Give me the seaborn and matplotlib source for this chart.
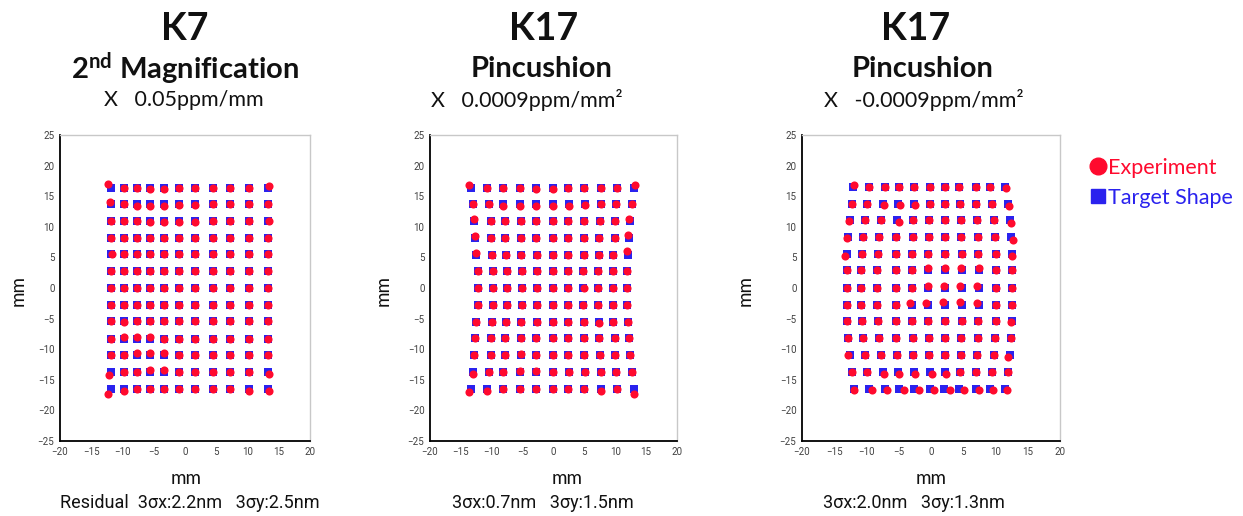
import matplotlib
matplotlib.use("Agg")
import matplotlib.pyplot as plt
from matplotlib import font_manager
from matplotlib.lines import Line2D
import seaborn as sns
import pandas as pd

# ---- values (mm) ----
k7_y = [16.4, 13.7, 11.0, 8.2, 5.5, 2.8, 0.0, -2.7, -5.4, -8.3, -11.0, -13.7, -16.5]
k7_x = [-11.8, -9.8, -7.7, -5.6, -3.4, -0.9, 1.6, 4.4, 7.2, 10.2, 13.3]
k7_dev = [(0, 0, -0.5, 0.6), (1, 0, -0.2, 0.4), (11, 0, -0.3, -0.5), (12, 0, -0.6, -0.8),
          (12, 1, 0.0, -0.3), (12, 9, 0.0, -0.3), (12, 10, 0.1, -0.3), (11, 10, 0.1, -0.3),
          (0, 3, 0.0, -0.3), (0, 4, 0.0, -0.3), (1, 2, 0.0, -0.3), (1, 3, 0.0, -0.3),
          (1, 4, 0.0, -0.3), (1, 5, 0.0, -0.2), (1, 6, 0.0, -0.2), (2, 3, 0.0, -0.2),
          (2, 4, 0.0, -0.2), (2, 5, 0.0, -0.2), (2, 6, 0.0, -0.2), (9, 1, 0.0, 0.3),
          (9, 2, 0.0, 0.3), (9, 3, 0.0, 0.3), (10, 2, 0.0, 0.3), (10, 3, 0.0, 0.3),
          (10, 4, 0.0, 0.3), (11, 3, 0.0, 0.3), (11, 4, 0.0, 0.3), (0, 10, 0.1, 0.2),
          (2, 10, 0.1, -0.1), (4, 0, 0.1, 0.1), (8, 1, 0.1, -0.2)]

pin_y = [16.4, 13.7, 10.9, 8.2, 5.4, 2.7, 0.0, -2.7, -5.5, -8.2, -11.0, -13.8, -16.5]
pin_x = [
    [-13.4, -10.8, -8.1, -5.4, -2.8, -0.1, 2.4, 5.0, 7.7, 10.3, 13.1],
    [-13.1, -10.4, -8.1, -5.4, -2.9, -0.1, 2.5, 5.1, 7.7, 10.2, 12.7],
    [-12.9, -10.2, -7.9, -5.3, -2.8, -0.1, 2.4, 5.0, 7.5, 10.0, 12.4],
    [-12.7, -10.1, -7.8, -5.2, -2.8, -0.1, 2.4, 4.9, 7.4, 9.9, 12.2],
    [-12.5, -9.9, -7.7, -5.2, -2.7, -0.1, 2.3, 4.9, 7.3, 9.7, 12.1],
    [-12.3, -9.8, -7.6, -5.1, -2.7, -0.1, 2.3, 4.8, 7.2, 9.6, 11.9],
    [-12.3, -9.8, -7.6, -5.1, -2.7, -0.1, 2.3, 4.8, 7.2, 9.6, 11.9],
    [-12.3, -9.8, -7.6, -5.1, -2.7, -0.1, 2.3, 4.8, 7.2, 9.6, 11.9],
    [-12.5, -9.9, -7.7, -5.2, -2.7, -0.1, 2.3, 4.9, 7.3, 9.7, 12.1],
    [-12.7, -10.1, -7.8, -5.2, -2.8, -0.1, 2.4, 4.9, 7.4, 9.9, 12.2],
    [-12.9, -10.2, -7.9, -5.3, -2.8, -0.1, 2.4, 5.0, 7.5, 10.0, 12.4],
    [-13.1, -10.4, -8.1, -5.4, -2.9, -0.1, 2.5, 5.1, 7.7, 10.2, 12.7],
    [-13.4, -10.8, -8.1, -5.4, -2.8, -0.1, 2.4, 5.0, 7.7, 10.3, 13.1],
]
pin_dev = [(0, 0, -0.3, 0.35), (0, 10, 0.05, 0.35), (12, 0, -0.3, -0.55), (12, 10, 0.0, -0.75),
           (12, 1, 0.0, -0.4), (12, 8, 0.0, -0.4), (2, 0, 0.05, 0.4), (3, 0, 0.0, 0.3),
           (4, 0, 0.0, 0.3), (2, 10, -0.15, 0.4), (3, 10, -0.15, 0.5), (4, 10, -0.15, 0.6),
           (0, 5, 0.0, -0.25), (0, 4, 0.0, -0.2), (1, 2, 0.0, -0.25), (1, 3, 0.0, -0.3),
           (1, 4, 0.0, -0.3), (1, 5, 0.0, -0.3), (1, 6, 0.0, -0.3), (1, 7, 0.0, -0.2),
           (11, 3, 0.0, 0.3), (11, 4, 0.0, 0.3), (11, 0, 0.0, -0.3), (10, 3, 0.0, 0.25),
           (8, 8, 0.0, -0.2), (6, 7, 0.1, 0.0)]

bar_y = [16.5, 13.8, 11.1, 8.3, 5.5, 2.9, 0.0, -2.7, -5.4, -8.2, -11.0, -13.7, -16.5]
bar_x = [
    [-12.1, -9.6, -7.2, -4.9, -2.6, -0.1, 2.1, 4.4, 6.9, 9.2, 11.5],
    [-12.3, -10.0, -7.5, -5.1, -2.7, -0.2, 2.1, 4.5, 7.0, 9.5, 11.9],
    [-12.6, -10.3, -7.8, -5.2, -2.8, -0.3, 2.2, 4.6, 7.2, 9.7, 12.2],
    [-12.9, -10.6, -8.1, -5.4, -2.8, -0.3, 2.2, 4.7, 7.3, 9.9, 12.4],
    [-13.0, -10.7, -8.2, -5.4, -2.9, -0.4, 2.2, 4.8, 7.3, 10.0, 12.5],
    [-13.1, -10.8, -8.3, -5.5, -2.9, -0.4, 2.2, 4.8, 7.4, 10.1, 12.6],
    [-13.1, -10.8, -8.3, -5.5, -2.9, -0.4, 2.2, 4.8, 7.4, 10.1, 12.6],
    [-13.1, -10.8, -8.3, -5.5, -2.9, -0.4, 2.2, 4.8, 7.4, 10.1, 12.6],
    [-13.0, -10.7, -8.2, -5.4, -2.9, -0.4, 2.2, 4.8, 7.3, 10.0, 12.5],
    [-12.9, -10.6, -8.1, -5.4, -2.8, -0.3, 2.2, 4.7, 7.3, 9.9, 12.4],
    [-12.6, -10.3, -7.8, -5.2, -2.8, -0.3, 2.2, 4.6, 7.2, 9.7, 12.2],
    [-12.3, -10.0, -7.5, -5.1, -2.7, -0.2, 2.1, 4.5, 7.0, 9.5, 11.9],
    [-12.0, -9.6, -7.2, -4.9, -2.6, -0.2, 2.0, 4.4, 6.9, 9.2, 11.4],
]
bar_dev = [(12, 0, 0.1, -0.1), (12, 1, 0.45, -0.1), (12, 2, 0.45, -0.1), (12, 3, 0.65, -0.1),
           (12, 4, 0.8, -0.1), (12, 5, 0.7, -0.1), (12, 6, 0.9, -0.1), (12, 7, 0.7, -0.1),
           (12, 8, 0.5, -0.1), (12, 9, 0.4, -0.1), (12, 10, 0.45, -0.1),
           (11, 2, 0.2, -0.3), (11, 3, 0.2, -0.3), (11, 4, 0.25, -0.3), (11, 5, 0.3, -0.4),
           (11, 6, 0.25, -0.3), (11, 10, 0.1, 0.0),
           (7, 4, -0.3, 0.3), (7, 5, -0.3, 0.3), (7, 6, -0.35, 0.35), (7, 7, -0.35, 0.35),
           (7, 8, -0.25, 0.3), (6, 5, -0.1, 0.3), (6, 6, -0.25, 0.35), (6, 7, -0.25, 0.3),
           (6, 8, -0.2, 0.3), (5, 5, 0.0, 0.3), (5, 6, -0.1, 0.4), (5, 7, -0.1, 0.3),
           (5, 8, 0.0, 0.3), (0, 0, 0.2, 0.4), (0, 10, 0.2, -0.1), (1, 2, 0.2, -0.2),
           (1, 3, 0.25, -0.3), (1, 4, 0.25, -0.3), (1, 10, 0.15, -0.4), (2, 0, -0.1, -0.2),
           (2, 3, 0.2, -0.3), (2, 10, 0.2, -0.4), (3, 0, -0.15, -0.1), (3, 10, 0.25, -0.4),
           (4, 0, -0.3, -0.3), (4, 10, 0.1, -0.2), (8, 10, -0.1, -0.2), (10, 0, -0.2, 0.0),
           (10, 10, -0.2, -0.2)]

titles = ["K7", "K17", "K17"]
subtitles = [r"$\mathbf{2^{nd}}$ Magnification", "Pincushion", "Pincushion"]
params = ["X   0.05ppm/mm", "X   0.0009ppm/mm²", "X   -0.0009ppm/mm²"]
residuals = ["Residual  3σx:2.2nm   3σy:2.5nm",
             "3σx:0.7nm   3σy:1.5nm",
             "3σx:2.0nm   3σy:1.3nm"]
legend_labels = ["Experiment", "Target Shape"]

RED = "#ff0a2e"
BLUE = "#2a22ee"


def build(xrows, yrows, devs):
    recs = []
    for i, y in enumerate(yrows):
        for j, x in enumerate(xrows[i]):
            recs.append({"row": i, "col": j, "x": x, "y": y})
    target = pd.DataFrame(recs)
    exp = target.copy()
    for i, j, dx, dy in devs:
        m = (exp["row"] == i) & (exp["col"] == j)
        exp.loc[m, "x"] += dx
        exp.loc[m, "y"] += dy
    target["kind"] = "Target Shape"
    exp["kind"] = "Experiment"
    return pd.concat([target, exp], ignore_index=True)


panels = [build([k7_x] * len(k7_y), k7_y, k7_dev),
          build(pin_x, pin_y, pin_dev),
          build(bar_x, bar_y, bar_dev)]

sns.set_style("white")
names = {f.name for f in font_manager.fontManager.ttflist}
narrow = "Liberation Sans Narrow" if "Liberation Sans Narrow" in names else "Roboto"
head = "Lato" if "Lato" in names else "Open Sans"
plt.rcParams["font.family"] = [head, "DejaVu Sans"]
plt.rcParams["mathtext.fontset"] = "custom"
plt.rcParams["mathtext.rm"] = head
plt.rcParams["mathtext.bf"] = head + ":bold"

W, H = 1243, 516
fig = plt.figure(figsize=(W / 100, H / 100), dpi=100)

# axes boxes in pixels: left, top, right, bottom
boxes = [(60, 135, 310, 441), (430, 135, 677, 441), (802, 135, 1060, 441)]
title_x = [185, 544, 916]
sub_x = [185, 542, 923]
param_x = [184, 527, 924]
xlab_x = [186, 567, 931]
ylab_x = [18, 383, 745]
res_x = [190, 543, 914]


def fx(px):
    return px / W


def fy(py):
    return 1 - py / H


for k, df in enumerate(panels):
    l, t, r, b = boxes[k]
    ax = fig.add_axes([fx(l), fy(b), (r - l) / W, (b - t) / H])
    sns.scatterplot(data=df[df["kind"] == "Target Shape"], x="x", y="y", marker="s",
                    color=BLUE, s=32, linewidth=0, ax=ax, legend=False, zorder=2)
    sns.scatterplot(data=df[df["kind"] == "Experiment"], x="x", y="y", marker="o",
                    color=RED, s=34, linewidth=0, ax=ax, legend=False, zorder=3)
    ax.set_xlim(-20, 20)
    ax.set_ylim(-25, 25)
    ax.set_xticks(range(-20, 21, 5))
    ax.set_yticks(range(-25, 26, 5))
    ax.set_xlabel("")
    ax.set_ylabel("")
    ax.tick_params(length=0, pad=4, labelsize=7, labelcolor="#404040")
    for lab in ax.get_xticklabels() + ax.get_yticklabels():
        lab.set_family([narrow, "DejaVu Sans"])
    for side in ["left", "bottom"]:
        ax.spines[side].set_color("black")
        ax.spines[side].set_linewidth(1.3)
    for side in ["top", "right"]:
        ax.spines[side].set_color("#c8c8c8")
        ax.spines[side].set_linewidth(1.0)

    fig.text(fx(title_x[k]), fy(29), titles[k], ha="center", va="center",
             fontsize=27, fontweight="bold", color="#111111")
    fig.text(fx(sub_x[k]), fy(69), subtitles[k], ha="center", va="center",
             fontsize=21, fontweight="bold", color="#111111")
    fig.text(fx(param_x[k]), fy(100), params[k], ha="center", va="center",
             fontsize=15.5, color="#111111")
    fig.text(fx(xlab_x[k]), fy(478), "mm", ha="center", va="center",
             fontsize=13.5, color="#111111")
    fig.text(fx(ylab_x[k]), fy(290), "mm", ha="center", va="center",
             fontsize=13.5, rotation=90, color="#111111")
    fig.text(fx(res_x[k]), fy(503), residuals[k], ha="center", va="center",
             fontsize=13, color="#111111", family=[narrow, "DejaVu Sans"])

handles = [Line2D([], [], marker="o", ls="", color=RED, markersize=12),
           Line2D([], [], marker="s", ls="", color=BLUE, markersize=10)]
fig.legend(handles, legend_labels, loc="upper left", bbox_to_anchor=(fx(1090), fy(158)),
           frameon=False, labelcolor=[RED, BLUE], fontsize=15.5, handlelength=0.7,
           handletextpad=0.15, labelspacing=0.45, borderpad=0, borderaxespad=0)

fig.savefig("out.png", dpi=100)
